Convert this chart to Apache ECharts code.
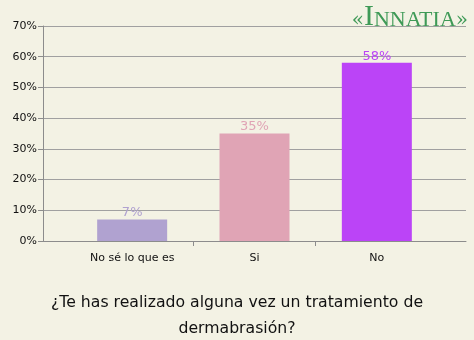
<!DOCTYPE html>
<html><head><meta charset="utf-8">
<script src="https://cdn.jsdelivr.net/npm/echarts@6/dist/echarts.min.js"></script>
<style>html,body{margin:0;padding:0;background:#f3f2e4;}#c{width:474px;height:340px;}</style>
</head><body><div id="c"></div>
<script>
const categories = ['No sé lo que es', 'Si', 'No'];
const values = [7, 35, 58];
const yMin = 0, yMax = 70, yStep = 10;
const title = '¿Te has realizado alguna vez un tratamiento de\ndermabrasión?';
const barColors = ['#b0a2d0', '#e0a4b5', '#bb44f7'];

const chart = echarts.init(document.getElementById('c'), null, {renderer: 'canvas'});
const font = 'DejaVu Sans, Verdana, sans-serif';
const barLeft = 71, barRight = 438;
const band = (barRight - barLeft) / categories.length;
chart.setOption({
  backgroundColor: '#f3f2e4',
  animation: false,
  title: {
    text: title, left: 'center', top: 285,
    textStyle: {fontFamily: font, fontSize: 15.7, fontWeight: 'normal', color: '#111', lineHeight: 26}
  },
  graphic: [{
    type: 'text', right: 6, top: 2,
    style: {
      text: '{o|«}{b|I}{s|NNATIA}{o|»}',
      rich: {
        o: {fontFamily: 'DejaVu Serif, serif', fontSize: 20, fill: '#3f9a57', verticalAlign: 'bottom', padding: [0,0,1,0]},
        b: {fontFamily: 'Liberation Serif, serif', fontSize: 30, fill: '#3f9a57', verticalAlign: 'bottom'},
        s: {fontFamily: 'Liberation Serif, serif', fontSize: 22, fill: '#3f9a57', verticalAlign: 'bottom', padding: [0,0,1,0]}
      }
    }
  }],
  grid: [
    {left: 43, right: 8, top: 26, bottom: 99},
    {left: barLeft, right: 474 - barRight, top: 26, bottom: 99},
    {left: barLeft + band, right: 474 - (barRight - band), top: 26, bottom: 99}
  ],
  xAxis: [
    {type: 'category', gridIndex: 0, data: [''],
     axisLine: {show: true, lineStyle: {color: '#8c8c8c'}},
     axisTick: {show: false}, axisLabel: {show: false}},
    {type: 'category', gridIndex: 1, data: categories,
     axisLine: {show: false}, axisTick: {show: false},
     axisLabel: {fontFamily: font, fontSize: 11, color: '#111', margin: 12}},
    {type: 'value', gridIndex: 2, min: 0, max: 1, interval: 1,
     axisLine: {show: false}, splitLine: {show: false}, axisLabel: {show: false},
     axisTick: {show: true, length: 5, lineStyle: {color: '#8c8c8c'}}}
  ],
  yAxis: [
    {type: 'value', gridIndex: 0, min: yMin, max: yMax, interval: yStep,
     axisLine: {show: true, lineStyle: {color: '#8c8c8c'}},
     axisTick: {show: true, length: 5, lineStyle: {color: '#8c8c8c'}},
     splitLine: {show: true, lineStyle: {color: '#a0a0a0'}},
     axisLabel: {formatter: '{value}%', fontFamily: font, fontSize: 11, color: '#111', margin: 6}},
    {type: 'value', gridIndex: 1, min: yMin, max: yMax, interval: yStep, show: false},
    {type: 'value', gridIndex: 2, min: yMin, max: yMax, interval: yStep, show: false}
  ],
  series: [{
    type: 'bar', xAxisIndex: 1, yAxisIndex: 1, barWidth: 70,
    data: values.map((v, i) => ({value: v, itemStyle: {color: barColors[i]}, label: {color: barColors[i]}})),
    label: {show: true, position: 'top', distance: 0, formatter: '{c}%', fontFamily: font, fontSize: 13}
  }]
});
</script></body></html>
